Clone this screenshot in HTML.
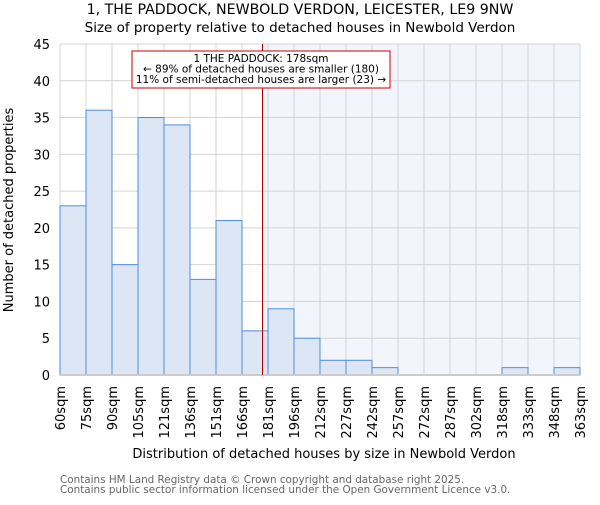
<!DOCTYPE html>
<html><head><meta charset="utf-8"><style>
body{margin:0;background:#fff}
svg text{font-family:"DejaVu Sans","Liberation Sans",sans-serif}
</style></head><body>
<svg id="c" width="600" height="500" xmlns="http://www.w3.org/2000/svg">
<text x="300" y="14" text-anchor="middle" font-size="14.2">1, THE PADDOCK, NEWBOLD VERDON, LEICESTER, LE9 9NW</text>
<text x="300" y="32" text-anchor="middle" font-size="13.5">Size of property relative to detached houses in Newbold Verdon</text>
<g id="plot"></g>
<text x="324" y="458" text-anchor="middle" font-size="13">Distribution of detached houses by size in Newbold Verdon</text>
<text transform="translate(13,210) rotate(-90)" text-anchor="middle" font-size="13">Number of detached properties</text>
<text x="60" y="483" font-size="10.4" fill="#666">Contains HM Land Registry data © Crown copyright and database right 2025.</text>
<text x="60" y="493" font-size="10.4" fill="#666">Contains public sector information licensed under the Open Government Licence v3.0.</text>
</svg>
<script>
const categories=["60sqm","75sqm","90sqm","105sqm","121sqm","136sqm","151sqm","166sqm","181sqm","196sqm","212sqm","227sqm","242sqm","257sqm","272sqm","287sqm","302sqm","318sqm","333sqm","348sqm","363sqm"];
const counts=[23,36,15,35,34,13,21,6,9,5,2,2,1,0,0,0,0,1,0,1];
const yTicks=[0,5,10,15,20,25,30,35,40,45];
const binStart=60, binWidth=15.15, propertySize=178;
const NS="http://www.w3.org/2000/svg";
const g=document.getElementById('plot');
const X0=60,X1=580,Y0=375,Y1=44,yMax=45;
const bw=(X1-X0)/counts.length;
const xs=i=>X0+i*bw;
const ys=v=>Y0-(v/yMax)*(Y0-Y1);
const xv=v=>X0+(v-binStart)/binWidth*bw;
function mk(t,a,p){const e=document.createElementNS(NS,t);for(const k in a)e.setAttribute(k,a[k]);(p||g).appendChild(e);return e;}
const px=xv(propertySize);
const sh=mk('rect',{x:px,y:Y1,width:X1-px,height:Y0-Y1,fill:'#f3f5fc'});


for(let i=0;i<=counts.length;i++){const l=mk('line',{x1:xs(i),x2:xs(i),y1:Y1,y2:Y0,stroke:'#d4d4d4','stroke-width':1});

}
yTicks.forEach(t=>{const l=mk('line',{x1:X0,x2:X1,y1:ys(t),y2:ys(t),stroke:'#d4d4d4','stroke-width':1});


const tx=mk('text',{x:X0-10,y:ys(t)+5,'text-anchor':'end','font-size':13});tx.textContent=t;

});
counts.forEach((v,i)=>{if(v<=0)return;const r=mk('rect',{x:xs(i),y:ys(v),width:bw,height:Y0-ys(v),fill:'#dce6f4',stroke:'#4f8fdc','stroke-width':1});

});
const ax=mk('line',{x1:X0,x2:X1,y1:Y0,y2:Y0,stroke:'#ccc','stroke-width':2});


categories.forEach((c,i)=>{const t=mk('text',{transform:`translate(${xs(i)+5},386) rotate(-90)`,'text-anchor':'end','font-size':13});t.textContent=c;

});
const ml=mk('line',{x1:px,x2:px,y1:Y1,y2:Y0,stroke:'#aa0000','stroke-width':1});


const box=mk('rect',{x:132,y:51,width:258,height:37,fill:'#fff',stroke:'#cc0000','stroke-width':1});


["1 THE PADDOCK: 178sqm","← 89% of detached houses are smaller (180)","11% of semi-detached houses are larger (23) →"].forEach((s,i)=>{const t=mk('text',{x:261,y:62+i*10.5,'text-anchor':'middle','font-size':10.5});t.textContent=s;

});
</script>
</body></html>
